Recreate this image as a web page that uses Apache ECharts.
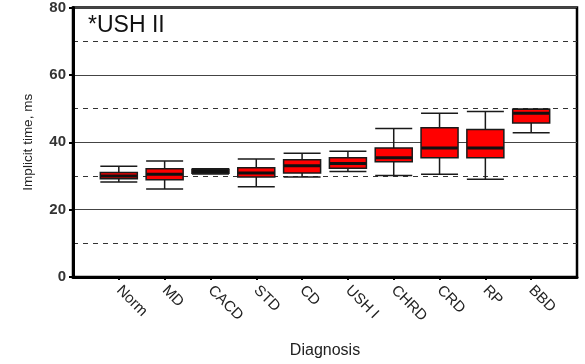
<!DOCTYPE html>
<html>
<head>
<meta charset="utf-8">
<script src="https://cdn.jsdelivr.net/npm/echarts@6/dist/echarts.min.js"></script>
<style>
html, body { margin: 0; padding: 0; background: #fff; }
#chart { width: 585px; height: 364px; }
</style>
</head>
<body>
<div id="chart"></div>
<script>
// diagnosis groups (blank slots pad the axis ends)
const categories = ['Norm', 'MD', 'CACD', 'STD', 'CD', 'USH I', 'CHRD', 'CRD', 'RP', 'BBD']
// [min, Q1, median, Q3, max] implicit time, ms
const boxValues = [
    [28.2, 29.2, 30.0, 31.0, 32.9],
    [26.1, 28.9, 30.5, 32.1, 34.4],
    [30.6, 30.8, 31.3, 32.0, 32.1],
    [26.8, 29.7, 30.9, 32.4, 35.0],
    [29.7, 30.9, 33.0, 34.8, 36.7],
    [31.3, 32.3, 33.7, 35.4, 37.3],
    [30.1, 34.2, 35.4, 38.3, 44.1],
    [30.5, 35.4, 38.3, 44.3, 48.6],
    [29.0, 35.4, 38.3, 43.8, 49.1],
    [42.8, 45.7, 48.6, 49.8, 49.9]
]
const yTicks = [0, 20, 40, 60, 80]

let axisCats = [''].concat(categories, [''])
let boxData = boxValues.map((v, i) => [i + 1].concat(v))
let fontFamily = '"Liberation Sans", Arial, sans-serif'

let option = {
    animation: false,
    title: {
        text: '*USH II',
        left: 83,
        top: 9,
        textStyle: {
            fontFamily: fontFamily,
            fontSize: 23,
            fontWeight: 'normal',
            color: '#111'
        }
    },
    grid: {
        left: 73,
        right: 8,
        top: 7,
        bottom: 79,
        show: true,
        borderColor: '#000',
        borderWidth: 2.5
    },
    xAxis: {
        type: 'category',
        data: axisCats,
        boundaryGap: false,
        name: 'Diagnosis',
        nameLocation: 'middle',
        nameGap: 66,
        nameTextStyle: {
            fontFamily: fontFamily,
            fontSize: 16,
            color: '#222'
        },
        axisLine: {
            lineStyle: { color: '#000', width: 3 }
        },
        axisTick: {
            length: 3,
            interval: function(index) {
                return index > 0 && index < axisCats.length - 1
            },
            lineStyle: { color: '#000', width: 2 }
        },
        axisLabel: {
            rotate: -45,
            interval: 0,
            margin: 11,
            fontFamily: fontFamily,
            fontSize: 15,
            color: '#222'
        },
        splitLine: { show: false }
    },
    yAxis: {
        type: 'value',
        min: 0,
        max: 80,
        interval: 20,
        name: 'Implicit time, ms',
        nameLocation: 'middle',
        nameGap: 38,
        nameTextStyle: {
            fontFamily: fontFamily,
            fontSize: 13.5,
            color: '#222'
        },
        axisLine: {
            show: true,
            lineStyle: { color: '#000', width: 3 }
        },
        axisTick: {
            show: true,
            length: 4,
            lineStyle: { color: '#000', width: 2 }
        },
        axisLabel: {
            margin: 7,
            fontFamily: fontFamily,
            fontSize: 15,
            fontWeight: 'bold',
            color: '#333',
            formatter: function(v) {
                return yTicks.indexOf(v) >= 0 ? String(v) : ''
            }
        },
        splitLine: {
            show: true,
            lineStyle: { color: '#444', width: 1.2 }
        },
        minorTick: { show: false, splitNumber: 2 },
        minorSplitLine: {
            show: true,
            lineStyle: { color: '#333', width: 1, type: [5, 5] }
        }
    },
    series: [{
        type: 'boxplot',
        data: boxData,
        encode: { x: 0, y: [1, 2, 3, 4, 5] },
        boxWidth: [37, 37],
        itemStyle: {
            color: '#ff0000',
            borderColor: '#1a1a1a',
            borderWidth: 1.5
        }
    }, {
        // thicker median bars
        type: 'custom',
        data: boxData.map(d => [d[0], d[3]]),
        renderItem: function(params, api) {
            let p = api.coord([api.value(0), api.value(1)])
            return {
                type: 'line',
                shape: { x1: p[0] - 18, y1: p[1], x2: p[0] + 18, y2: p[1] },
                style: { stroke: '#111', lineWidth: 3 }
            }
        },
        z: 5
    }]
}

var myChart = echarts.init(document.getElementById('chart'))
myChart.setOption(option)
</script>
</body>
</html>
